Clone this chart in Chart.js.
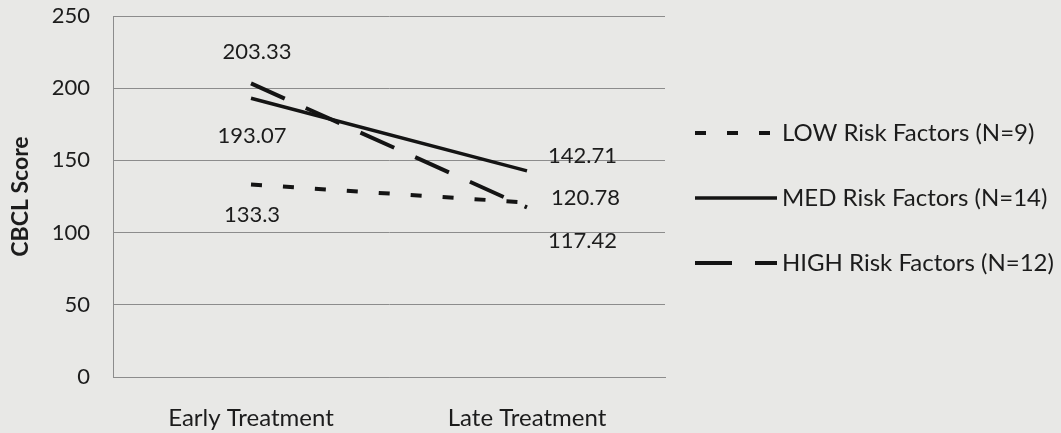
<!DOCTYPE html>
<html>
<head>
<meta charset="utf-8">
<script src="https://cdn.jsdelivr.net/npm/chart.js@4"></script>
<style>
html,body{margin:0;padding:0;background:#e8e8e6;}
#wrap{width:1061px;height:433px;position:relative;}
</style>
</head>
<body>
<div id="wrap"><canvas id="c" width="1061" height="433"></canvas></div>
<script>
const categories = ['Early Treatment', 'Late Treatment'];
const seriesNames = ['LOW Risk Factors (N=9)', 'MED Risk Factors (N=14)', 'HIGH Risk Factors (N=12)'];
const lowValues = [133.3, 120.78];
const medValues = [193.07, 142.71];
const highValues = [203.33, 117.42];
const yTicks = [0, 50, 100, 150, 200, 250];

const INK = '#1c1c1c';
const FONT = 'Lato, "Open Sans", sans-serif';

// label offsets relative to each point (dx, dy, align)
const labelPlacement = [
  [{dx: 1, dy: 30, align: 'center'}, {dx: 24, dy: -5, align: 'left'}],
  [{dx: 1, dy: 38, align: 'center'}, {dx: 21, dy: -15, align: 'left'}],
  [{dx: 6, dy: -31, align: 'center'}, {dx: 21, dy: 33, align: 'left'}]
];

const bgPlugin = {
  id: 'bg',
  beforeDraw(chart) {
    const ctx = chart.ctx;
    ctx.save();
    ctx.fillStyle = '#e8e8e6';
    ctx.fillRect(0, 0, chart.width, chart.height);
    ctx.restore();
  }
};

const valueLabels = {
  id: 'valueLabels',
  afterDatasetsDraw(chart) {
    const ctx = chart.ctx;
    ctx.save();
    ctx.fillStyle = INK;
    ctx.font = '22px ' + FONT;
    ctx.textBaseline = 'middle';
    chart.data.datasets.forEach((ds, i) => {
      const meta = chart.getDatasetMeta(i);
      meta.data.forEach((pt, j) => {
        const p = labelPlacement[i][j];
        ctx.textAlign = p.align;
        ctx.fillText(String(ds.data[j]), pt.x + p.dx, pt.y + p.dy);
      });
    });
    ctx.restore();
  }
};

const customLegend = {
  id: 'customLegend',
  afterDraw(chart) {
    const ctx = chart.ctx;
    const x0 = 695, x1 = 777, tx = 782;
    const ys = [133, 198, 263];
    ctx.save();
    chart.data.datasets.forEach((ds, i) => {
      ctx.strokeStyle = ds.borderColor;
      ctx.lineWidth = ds.borderWidth;
      ctx.lineCap = 'butt';
      ctx.setLineDash(ds.borderDash || []);
      ctx.beginPath();
      ctx.moveTo(x0, ys[i]);
      ctx.lineTo(x1, ys[i]);
      ctx.stroke();
      ctx.setLineDash([]);
      ctx.fillStyle = INK;
      ctx.font = '24px ' + FONT;
      ctx.textAlign = 'left';
      ctx.textBaseline = 'middle';
      ctx.fillText(ds.label, tx, ys[i]);
    });
    ctx.restore();
  }
};

new Chart(document.getElementById('c'), {
  type: 'line',
  data: {
    labels: categories,
    datasets: [
      {label: seriesNames[0], data: lowValues, borderColor: '#141414', borderWidth: 4, borderDash: [11, 21], pointRadius: 0, fill: false, tension: 0},
      {label: seriesNames[1], data: medValues, borderColor: '#141414', borderWidth: 3.5, borderDash: [], pointRadius: 0, fill: false, tension: 0},
      {label: seriesNames[2], data: highValues, borderColor: '#141414', borderWidth: 4, borderDash: [37, 23], pointRadius: 0, fill: false, tension: 0}
    ]
  },
  options: {
    responsive: false,
    animation: false,
    events: [],
    layout: {padding: {left: 0, top: 16, right: 396, bottom: 0}},
    plugins: {legend: {display: false}, tooltip: {enabled: false}},
    scales: {
      x: {
        type: 'category',
        offset: true,
        grid: {display: false},
        border: {display: true, color: '#8c8c8c', width: 1},
        ticks: {color: INK, font: {family: FONT, size: 24}, padding: 19, maxRotation: 0},
        afterFit(scale) { scale.height = 56; scale.paddingLeft = 0; scale.paddingRight = 0; }
      },
      y: {
        min: 0, max: 250,
        afterBuildTicks(scale) { scale.ticks = yTicks.map(v => ({value: v})); },
        grid: {color: '#8c8c8c', lineWidth: 1, drawTicks: false},
        border: {display: true, color: '#8c8c8c', width: 1},
        ticks: {color: INK, font: {family: FONT, size: 22}, padding: 23},
        title: {display: true, text: 'CBCL Score', color: INK, font: {family: FONT, size: 23, weight: 'bold'}, padding: {top: 7, bottom: 0}},
        afterFit(scale) { scale.width = 113; scale.paddingTop = 0; scale.paddingBottom = 0; }
      }
    }
  },
  plugins: [bgPlugin, valueLabels, customLegend]
});
</script>
</body>
</html>
